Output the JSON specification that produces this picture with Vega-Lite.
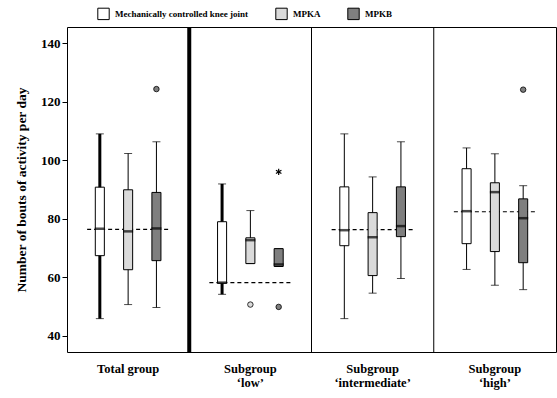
{
  "$schema": "https://vega.github.io/schema/vega-lite/v6.json",
  "width": 489,
  "height": 325,
  "autosize": {"type": "none"},
  "padding": {"left": 67, "top": 27, "right": 1, "bottom": 46},
  "background": "white",
  "config": {
    "font": "Liberation Serif",
    "view": {"stroke": "black", "strokeWidth": 1},
    "axis": {"grid": false, "labelFont": "Liberation Serif", "titleFont": "Liberation Serif", "labelFontWeight": "bold", "titleFontWeight": "bold", "labelColor": "black", "titleColor": "black"},
    "legend": {"labelFont": "Liberation Serif", "labelFontWeight": "bold"}
  },
  "datasets": {
    "boxes": [
      {"group": "total", "device": "Mechanically controlled knee joint", "min": 45.9, "q1": 67.4, "median": 76.6, "q3": 90.8, "max": 109.0},
      {"group": "total", "device": "MPKA", "min": 50.7, "q1": 62.6, "median": 75.7, "q3": 89.9, "max": 102.3},
      {"group": "total", "device": "MPKB", "min": 49.7, "q1": 65.7, "median": 76.7, "q3": 89.0, "max": 106.3},
      {"group": "low", "device": "Mechanically controlled knee joint", "min": 54.2, "q1": 58.0, "median": 58.2, "q3": 79.0, "max": 91.9},
      {"group": "low", "device": "MPKA", "min": 64.7, "q1": 64.7, "median": 72.7, "q3": 73.5, "max": 82.8},
      {"group": "low", "device": "MPKB", "min": 63.7, "q1": 63.7, "median": 64.4, "q3": 69.8, "max": 69.8},
      {"group": "intermediate", "device": "Mechanically controlled knee joint", "min": 45.9, "q1": 70.8, "median": 76.1, "q3": 90.9, "max": 109.0},
      {"group": "intermediate", "device": "MPKA", "min": 54.6, "q1": 60.6, "median": 73.7, "q3": 82.1, "max": 94.3},
      {"group": "intermediate", "device": "MPKB", "min": 59.6, "q1": 73.9, "median": 77.5, "q3": 90.9, "max": 106.3},
      {"group": "high", "device": "Mechanically controlled knee joint", "min": 62.7, "q1": 71.5, "median": 82.6, "q3": 97.1, "max": 104.2},
      {"group": "high", "device": "MPKA", "min": 57.3, "q1": 68.8, "median": 89.1, "q3": 92.3, "max": 102.2},
      {"group": "high", "device": "MPKB", "min": 55.8, "q1": 65.0, "median": 80.2, "q3": 86.8, "max": 91.3}
    ],
    "means": [
      {"group": "total", "mean": 76.4},
      {"group": "low", "mean": 58.2},
      {"group": "intermediate", "mean": 76.3},
      {"group": "high", "mean": 82.4}
    ],
    "outliers": [
      {"group": "total", "device": "MPKB", "value": 124.3, "kind": "outlier"},
      {"group": "low", "device": "MPKA", "value": 50.7, "kind": "outlier"},
      {"group": "low", "device": "MPKB", "value": 49.9, "kind": "outlier"},
      {"group": "low", "device": "MPKB", "value": 96.0, "kind": "extreme"}
    ],
    "outliers_high": [
      {"group": "high", "device": "MPKB", "value": 124.1, "kind": "outlier"}
    ],
    "dividers": [
      {"group": "low", "type": "thick"},
      {"group": "intermediate", "type": "thin"},
      {"group": "high", "type": "thin"}
    ]
  },
  "layer": [
    {
      "data": {"name": "dividers"},
      "transform": [{"filter": "datum.type === 'thin'"}],
      "mark": {"type": "rule", "color": "black", "strokeWidth": 1},
      "encoding": {
        "x": {"field": "group", "type": "nominal", "bandPosition": 0, "title": null, "scale": {"domain": ["total", "low", "intermediate", "high"], "paddingInner": 0, "paddingOuter": 0}}
      }
    },
    {
      "data": {"name": "dividers"},
      "transform": [{"filter": "datum.type === 'thick'"}],
      "mark": {"type": "rule", "color": "black", "strokeWidth": 4},
      "encoding": {
        "x": {"field": "group", "type": "nominal", "bandPosition": 0, "title": null, "scale": {"domain": ["total", "low", "intermediate", "high"], "paddingInner": 0, "paddingOuter": 0}}
      }
    },
    {
      "data": {"name": "means"},
      "mark": {"type": "rule", "color": "black", "strokeWidth": 1.2, "strokeDash": [4, 3], "xOffset": -41, "x2Offset": 43},
      "encoding": {
        "x": {"field": "group", "type": "nominal", "bandPosition": 0.5, "title": null, "scale": {"domain": ["total", "low", "intermediate", "high"], "paddingInner": 0, "paddingOuter": 0}},
        "x2": {"field": "group"},
        "y": {"field": "mean", "type": "quantitative", "title": "Number of bouts of activity per day", "scale": {"domain": [34.5, 145.5], "nice": false, "zero": false}}
      }
    },
    {
      "data": {"name": "boxes"},
      "mark": {"type": "rule", "color": "black"},
      "encoding": {
        "x": {"field": "group", "type": "nominal", "title": null, "scale": {"domain": ["total", "low", "intermediate", "high"], "paddingInner": 0, "paddingOuter": 0}},
        "xOffset": {"field": "device", "type": "nominal", "scale": {"domain": ["Mechanically controlled knee joint", "MPKA", "MPKB"], "paddingInner": 0.68, "paddingOuter": 1.023}},
        "y": {"field": "min", "type": "quantitative", "title": "Number of bouts of activity per day", "scale": {"domain": [34.5, 145.5], "nice": false, "zero": false}},
        "y2": {"field": "max"},
        "strokeWidth": {"condition": {"test": "datum.device === 'Mechanically controlled knee joint' && (datum.group === 'total' || datum.group === 'low')", "value": 3}, "value": 1}
      }
    },
    {
      "data": {"name": "boxes"},
      "mark": {"type": "tick", "color": "black", "size": 8, "thickness": 1},
      "encoding": {
        "x": {"field": "group", "type": "nominal", "title": null, "scale": {"domain": ["total", "low", "intermediate", "high"], "paddingInner": 0, "paddingOuter": 0}},
        "xOffset": {"field": "device", "type": "nominal", "scale": {"domain": ["Mechanically controlled knee joint", "MPKA", "MPKB"], "paddingInner": 0.68, "paddingOuter": 1.023}},
        "y": {"field": "min", "type": "quantitative", "title": "Number of bouts of activity per day", "scale": {"domain": [34.5, 145.5], "nice": false, "zero": false}}
      }
    },
    {
      "data": {"name": "boxes"},
      "mark": {"type": "tick", "color": "black", "size": 8, "thickness": 1},
      "encoding": {
        "x": {"field": "group", "type": "nominal", "title": null, "scale": {"domain": ["total", "low", "intermediate", "high"], "paddingInner": 0, "paddingOuter": 0}},
        "xOffset": {"field": "device", "type": "nominal", "scale": {"domain": ["Mechanically controlled knee joint", "MPKA", "MPKB"], "paddingInner": 0.68, "paddingOuter": 1.023}},
        "y": {"field": "max", "type": "quantitative", "title": "Number of bouts of activity per day", "scale": {"domain": [34.5, 145.5], "nice": false, "zero": false}}
      }
    },
    {
      "data": {"name": "boxes"},
      "mark": {"type": "bar", "stroke": "black", "strokeWidth": 1, "opacity": 1},
      "encoding": {
        "x": {"field": "group", "type": "nominal", "title": null, "scale": {"domain": ["total", "low", "intermediate", "high"], "paddingInner": 0, "paddingOuter": 0},
          "axis": {"labelAngle": 0, "labelAlign": "center", "ticks": false, "domain": false, "labelPadding": 10, "labelFont": "Liberation Serif", "labelFontWeight": "bold", "labelFontSize": 12.5, "labelLineHeight": 14, "labelBaseline": "top",
            "labelExpr": "datum.value == 'total' ? 'Total group' : ['Subgroup', '\u2018' + datum.value + '\u2019']"}},
        "xOffset": {"field": "device", "type": "nominal", "scale": {"domain": ["Mechanically controlled knee joint", "MPKA", "MPKB"], "paddingInner": 0.68, "paddingOuter": 1.023}},
        "y": {"field": "q1", "type": "quantitative", "title": "Number of bouts of activity per day",
          "scale": {"domain": [34.5, 145.5], "nice": false, "zero": false},
          "axis": {"values": [40, 60, 80, 100, 120, 140], "domain": false, "tickSize": 5, "tickColor": "black", "labelFont": "Liberation Serif", "labelFontWeight": "bold", "labelFontSize": 13, "labelPadding": 2, "titleFont": "Liberation Serif", "titleFontWeight": "bold", "titleFontSize": 13.5, "titlePadding": 12}},
        "y2": {"field": "q3"},
        "fill": {"field": "device", "type": "nominal", "scale": {"domain": ["Mechanically controlled knee joint", "MPKA", "MPKB"], "range": ["#ffffff", "#dadada", "#7f7f7f"]},
          "legend": {"title": null, "orient": "none", "legendX": 30, "legendY": -20, "direction": "horizontal", "columns": 3, "symbolType": "square", "symbolSize": 130, "symbolStrokeColor": "black", "symbolStrokeWidth": 1, "symbolOpacity": 1, "labelFont": "Liberation Serif", "labelFontWeight": "bold", "labelFontSize": 9, "labelColor": "black", "columnPadding": 24, "labelOffset": 5, "padding": 0}}
      }
    },
    {
      "data": {"name": "boxes"},
      "mark": {"type": "tick", "color": "black", "size": 10, "thickness": 2.5},
      "encoding": {
        "x": {"field": "group", "type": "nominal", "title": null, "scale": {"domain": ["total", "low", "intermediate", "high"], "paddingInner": 0, "paddingOuter": 0}},
        "xOffset": {"field": "device", "type": "nominal", "scale": {"domain": ["Mechanically controlled knee joint", "MPKA", "MPKB"], "paddingInner": 0.68, "paddingOuter": 1.023}},
        "y": {"field": "median", "type": "quantitative", "title": "Number of bouts of activity per day", "scale": {"domain": [34.5, 145.5], "nice": false, "zero": false}}
      }
    },
    {
      "data": {"name": "outliers"},
      "transform": [{"filter": "datum.kind === 'outlier'"}],
      "mark": {"type": "point", "shape": "circle", "filled": true, "size": 30, "stroke": "black", "strokeWidth": 0.8, "opacity": 1},
      "encoding": {
        "x": {"field": "group", "type": "nominal", "title": null, "scale": {"domain": ["total", "low", "intermediate", "high"], "paddingInner": 0, "paddingOuter": 0}},
        "xOffset": {"field": "device", "type": "nominal", "scale": {"domain": ["Mechanically controlled knee joint", "MPKA", "MPKB"], "paddingInner": 0.68, "paddingOuter": 1.023}},
        "y": {"field": "value", "type": "quantitative", "title": "Number of bouts of activity per day", "scale": {"domain": [34.5, 145.5], "nice": false, "zero": false}},
        "fill": {"field": "device", "type": "nominal"}
      }
    },
    {
      "data": {"name": "outliers"},
      "transform": [{"filter": "datum.kind === 'extreme'"}],
      "mark": {"type": "point", "shape": "M0,-1L0,1M-0.87,-0.5L0.87,0.5M-0.87,0.5L0.87,-0.5", "filled": false, "size": 40, "stroke": "black", "strokeWidth": 1.2, "opacity": 1},
      "encoding": {
        "x": {"field": "group", "type": "nominal", "title": null, "scale": {"domain": ["total", "low", "intermediate", "high"], "paddingInner": 0, "paddingOuter": 0}},
        "xOffset": {"field": "device", "type": "nominal", "scale": {"domain": ["Mechanically controlled knee joint", "MPKA", "MPKB"], "paddingInner": 0.68, "paddingOuter": 1.023}},
        "y": {"field": "value", "type": "quantitative", "title": "Number of bouts of activity per day", "scale": {"domain": [34.5, 145.5], "nice": false, "zero": false}}
      }
    },
    {
      "data": {"name": "outliers_high"},
      "mark": {"type": "point", "shape": "circle", "filled": true, "size": 30, "stroke": "black", "strokeWidth": 0.8, "opacity": 1, "xOffset": 27},
      "encoding": {
        "x": {"field": "group", "type": "nominal", "title": null, "scale": {"domain": ["total", "low", "intermediate", "high"], "paddingInner": 0, "paddingOuter": 0}},
        "xOffset": {"field": "device", "type": "nominal", "scale": {"domain": ["Mechanically controlled knee joint", "MPKA", "MPKB"], "paddingInner": 0.68, "paddingOuter": 1.023}},
        "y": {"field": "value", "type": "quantitative", "title": "Number of bouts of activity per day", "scale": {"domain": [34.5, 145.5], "nice": false, "zero": false}},
        "fill": {"field": "device", "type": "nominal"}
      }
    }
  ]
}
